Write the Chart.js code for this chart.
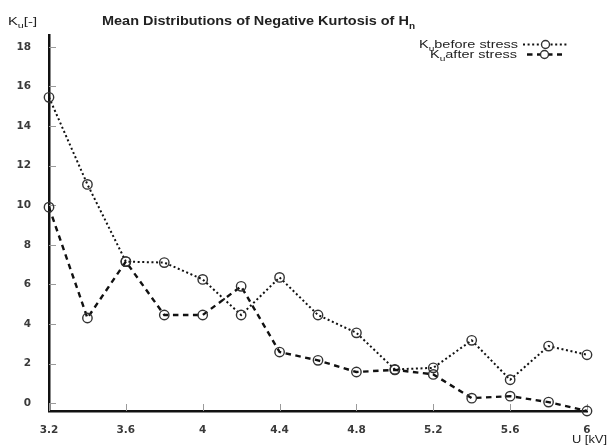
<!DOCTYPE html>
<html>
<head>
<meta charset="utf-8">
<script src="https://cdn.jsdelivr.net/npm/chart.js@4.4.1/dist/chart.umd.min.js"></script>
<style>
html,body{margin:0;padding:0;background:#fff;}
#wrap{width:609px;height:445px;}
</style>
</head>
<body>
<div id="wrap"><canvas id="c" width="609" height="445"></canvas></div>
<script>
// ---- data ----
const voltages = [3.2, 3.4, 3.6, 3.8, 4.0, 4.2, 4.4, 4.6, 4.8, 5.0, 5.2, 5.4, 5.6, 5.8, 6.0];
const kuBefore = [15.45, 11.05, 7.15, 7.1, 6.25, 4.45, 6.35, 4.45, 3.55, 1.7, 1.78, 3.17, 1.18, 2.88, 2.44];
const kuAfter  = [9.9, 4.3, 7.15, 4.45, 4.45, 5.9, 2.58, 2.16, 1.57, 1.68, 1.45, 0.25, 0.35, 0.05, -0.4];
const xTicks = [3.2, 3.6, 4.0, 4.4, 4.8, 5.2, 5.6, 6.0];
const xTickLabels = ['3.2', '3.6', '4', '4.4', '4.8', '5.2', '5.6', '6'];
const yTicks = [0, 2, 4, 6, 8, 10, 12, 14, 16, 18];
const yTickLabels = ['0', '2', '4', '6', '8', '10', '12', '14', '16', '18'];
const seriesNames = ['before stress', 'after stress'];

const FONT = "'Liberation Sans', Arial, Helvetica, sans-serif";
const TICKFONT = "'DejaVu Sans', 'Liberation Sans', sans-serif";
const dotDash = [2, 2.6];
const dashDash = [5.5, 4.5];

function toPts(ys){ return voltages.map((x,i)=>({x:x, y:ys[i]})); }

// parts: [{t:'K'}, {t:'u', sub:true}, ...]; drawn from x0 to x0+targetW (horizontally scaled)
function drawParts(ctx, parts, x0, baseline, size, weight, targetW){
  ctx.save();
  const subSize = Math.round(size * 0.72);
  let total = 0;
  const ws = parts.map(p => {
    ctx.font = weight + ' ' + (p.sub ? subSize : size) + 'px ' + FONT;
    const w = ctx.measureText(p.t).width;
    total += w;
    return w;
  });
  const sx = targetW / total;
  ctx.translate(x0, baseline);
  ctx.scale(sx, 1);
  ctx.textAlign = 'left';
  ctx.textBaseline = 'alphabetic';
  let x = 0;
  parts.forEach((p, i) => {
    ctx.font = weight + ' ' + (p.sub ? subSize : size) + 'px ' + FONT;
    ctx.fillText(p.t, x, p.sub ? size * 0.3 : 0);
    x += ws[i];
  });
  ctx.restore();
}

const decor = {
  id: 'decor',
  beforeDatasetsDraw(chart){
    const ctx = chart.ctx;
    const xs = chart.scales.x, ys = chart.scales.y;
    const a = chart.chartArea;
    ctx.save();
    ctx.strokeStyle = '#9a9a9a';
    ctx.lineWidth = 1;
    ys.ticks.forEach(t => {
      const py = Math.round(ys.getPixelForValue(t.value)) + 0.5;
      ctx.beginPath(); ctx.moveTo(a.left, py); ctx.lineTo(a.left + 7, py); ctx.stroke();
    });
    xs.ticks.forEach(t => {
      const px = Math.round(xs.getPixelForValue(t.value)) + 0.5;
      ctx.beginPath(); ctx.moveTo(px, a.bottom); ctx.lineTo(px, a.bottom - 7); ctx.stroke();
    });
    ctx.restore();
  },
  afterDraw(chart){
    const ctx = chart.ctx;
    ctx.save();
    ctx.fillStyle = '#222';
    // title
    drawParts(ctx, [{t:'Mean Distributions of Negative Kurtosis of H'}, {t:'n', sub:true}], 102, 25, 13, 'bold', 313);
    // y axis title
    drawParts(ctx, [{t:'K'}, {t:'u', sub:true}, {t:'[-]'}], 8, 25, 11, 'normal', 29);
    // x axis title
    drawParts(ctx, [{t:'U [kV]'}], 572, 443, 11, 'normal', 35);
    // legend
    const rows = [
      {y: 48, parts: [{t:'K'}, {t:'u', sub:true}, {t:'before stress'}], tx: 419, tw: 99, dash: dotDash, w: 2, x0: 523, x1: 568},
      {y: 58, parts: [{t:'K'}, {t:'u', sub:true}, {t:'after stress'}], tx: 430, tw: 87, dash: dashDash, w: 2.4, x0: 527, x1: 562}
    ];
    rows.forEach(r => {
      ctx.fillStyle = '#222';
      drawParts(ctx, r.parts, r.tx, r.y, 10, 'normal', r.tw);
      ctx.strokeStyle = '#111';
      ctx.lineWidth = r.w;
      ctx.setLineDash(r.dash);
      ctx.beginPath(); ctx.moveTo(r.x0, r.y - 3.5); ctx.lineTo(r.x1, r.y - 3.5); ctx.stroke();
      ctx.setLineDash([]);
      ctx.fillStyle = '#fff';
      ctx.lineWidth = 1.4;
      ctx.strokeStyle = '#333';
      ctx.beginPath(); ctx.arc((r.x0 + r.x1)/2, r.y - 3.5, 4, 0, Math.PI*2); ctx.fill(); ctx.stroke();
    });
    ctx.restore();
  }
};

new Chart(document.getElementById('c'), {
  type: 'line',
  data: {
    datasets: [
      {
        label: seriesNames[0],
        data: toPts(kuBefore),
        borderColor: '#111',
        borderWidth: 2,
        borderDash: dotDash,
        pointRadius: 4.7,
        pointBorderWidth: 1.4,
        pointBorderColor: '#333',
        pointBackgroundColor: 'rgba(255,255,255,0)',
        tension: 0,
        fill: false,
        clip: false
      },
      {
        label: seriesNames[1],
        data: toPts(kuAfter),
        borderColor: '#111',
        borderWidth: 2.4,
        borderDash: dashDash,
        pointRadius: 4.7,
        pointBorderWidth: 1.4,
        pointBorderColor: '#333',
        pointBackgroundColor: 'rgba(255,255,255,0)',
        tension: 0,
        fill: false,
        clip: false
      }
    ]
  },
  options: {
    responsive: false,
    animation: false,
    devicePixelRatio: 1,
    layout: { padding: { left: 0, right: 22, top: 35, bottom: 0 } },
    plugins: { legend: { display: false }, title: { display: false }, tooltip: { enabled: false } },
    scales: {
      x: {
        type: 'linear',
        min: 3.2, max: 6.0,
        grid: { display: false },
        border: { display: true, color: '#111', width: 2.5 },
        afterBuildTicks: s => { s.ticks = xTicks.map(v => ({value: v})); },
        afterFit: s => { s.height = 34; },
        ticks: {
          padding: 5,
          autoSkip: false,
          maxRotation: 0,
          color: '#3a3a3a',
          font: { family: TICKFONT, size: 10.5, weight: 'bold' },
          callback: (v, i) => xTickLabels[i]
        }
      },
      y: {
        type: 'linear',
        min: -0.4, max: 18.6,
        grid: { display: false },
        border: { display: true, color: '#111', width: 2.5 },
        afterBuildTicks: s => { s.ticks = yTicks.map(v => ({value: v})); },
        afterFit: s => { s.width = 49; },
        ticks: {
          padding: 10,
          autoSkip: false,
          color: '#3a3a3a',
          font: { family: TICKFONT, size: 10.5, weight: 'bold' },
          callback: (v, i) => yTickLabels[i]
        }
      }
    }
  },
  plugins: [decor]
});
</script>
</body>
</html>
